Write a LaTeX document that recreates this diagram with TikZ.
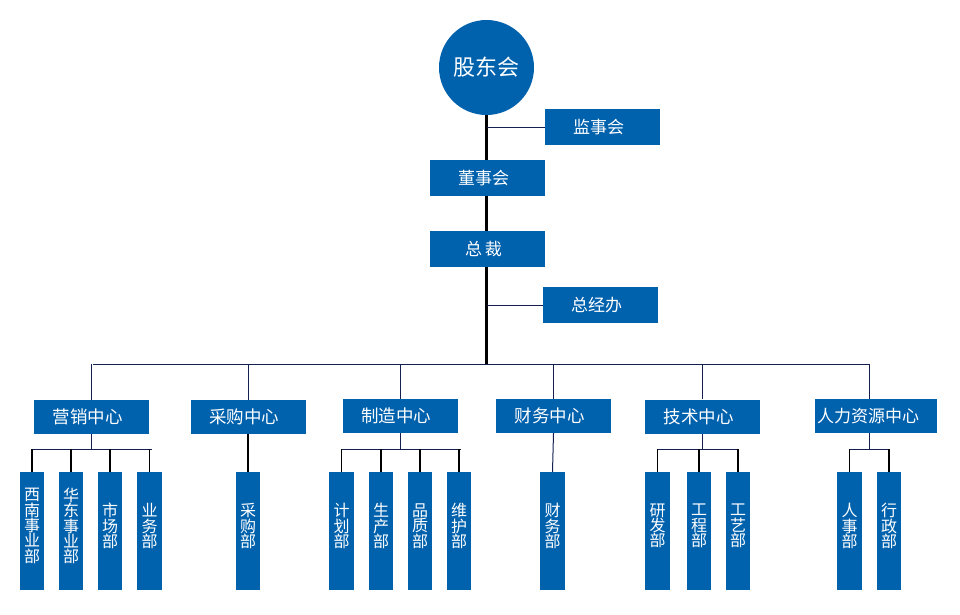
\documentclass[tikz,border=0pt]{standalone}
\usepackage{fontspec}
\setmainfont{Noto Sans CJK SC}
\usetikzlibrary{backgrounds}
\definecolor{orgblue}{RGB}{0,97,173}
\definecolor{navy}{RGB}{20,32,80}
\tikzset{
  box/.style={fill=orgblue, text=white, inner sep=0pt, minimum width=115pt, minimum height=36pt, font=\fontsize{17}{19}\selectfont, execute at end node=\hspace{8pt}},
  cbox/.style={box, minimum height=34pt, font=\fontsize{17.5}{19}\selectfont},
  bar/.style={fill=orgblue, inner sep=0pt, minimum width=24.5pt, minimum height=118pt},
  bartxt/.style={text=white, inner sep=0pt, align=center, font=\fontsize{16}{15.3}\selectfont},
  spine/.style={black, line width=2.4pt},
  thinl/.style={navy, line width=1pt},
  barl/.style={black, line width=1.4pt},
}
\begin{document}
\begin{tikzpicture}[x=1pt,y=-1pt]
\useasboundingbox (0,0) rectangle (960,614);
% top
\node[circle, fill=orgblue, text=white, minimum size=95pt, inner sep=0pt, font=\fontsize{22}{24}\selectfont] (root) at (486.5,67.5) {股东会};
\node[box] (jsh) at (602.5,127) {监事会};
\node[box] (dsh) at (487.5,178) {董事会};
\node[box] (zc) at (487.5,249) {总\,裁};
\node[box] (zjb) at (600.5,305) {总经办};
\coordinate (bus) at (486,364);
\coordinate (busL) at (93,364);
\coordinate (busR) at (869,364);
% centers
\node[cbox] (yx) at (91.5,417) {营销中心};
\node[cbox] (cg) at (248,417) {采购中心};
\node[cbox] (zz) at (400,416) {制造中心};
\node[cbox] (cw) at (553.5,416) {财务中心};
\node[cbox] (js) at (702.5,416.5) {技术中心};
\node[cbox, minimum width=122pt, font=\fontsize{17}{19}\selectfont, execute at end node=\hspace{8pt}] (rl) at (876,416) {人力资源中心};
\coordinate (sb) at (0,449);
% bars
\foreach \n/\x/\t in {b1/32/{西\\南\\事\\业\\部}, b2/71/{华\\东\\事\\业\\部}, b3/110/{市\\场\\部}, b4/149.5/{业\\务\\部},
  b5/248/{采\\购\\部}, b6/341.5/{计\\划\\部}, b7/381/{生\\产\\部}, b8/420/{品\\质\\部}, b9/459/{维\\护\\部},
  b10/552.5/{财\\务\\部}, b11/657.5/{研\\发\\部}, b12/699/{工\\程\\部}, b13/738/{工\\艺\\部},
  b14/849.5/{人\\事\\部}, b15/889/{行\\政\\部}}{
  \node[bar] (\n) at (\x,531) {};
  \node[bartxt] (\n t) at ([yshift=5pt]\n.center) {\t};
}
\begin{scope}[on background layer]
\draw[spine] (root.south) -- (root.south |- bus);
\draw[thinl] (jsh.west) -- (jsh.west -| root.south);
\draw[thinl] (zjb.west) -- (zjb.west -| root.south);
\draw[thinl] (busL) -- (busR);
\foreach \c in {yx,cg,zz,cw,js}{
  \draw[thinl] (\c.north) -- (\c.north |- bus);
}
\draw[thinl] ([xshift=-7pt]rl.north) -- ([xshift=-7pt]rl.north |- bus);
% groups
\draw[thinl] (yx.south) -- (yx.south |- sb);
\draw[thinl] (b1.north |- sb) -- ([xshift=2pt]b4.north |- sb);
\foreach \b in {b1,b2,b3,b4}{\draw[barl] (\b.north) -- (\b.north |- sb);}
\draw[barl] (cg.south) -- (b5.north);
\draw[thinl] (zz.south) -- (zz.south |- sb);
\draw[thinl] (b6.north |- sb) -- ([xshift=2pt]b9.north |- sb);
\foreach \b in {b6,b7,b8,b9}{\draw[barl] (\b.north) -- (\b.north |- sb);}
\draw[thinl] (cw.south) -- (b10.north);
\draw[thinl] (js.south) -- (js.south |- sb);
\draw[thinl] (b11.north |- sb) -- (b13.north |- sb);
\foreach \b in {b11,b12,b13}{\draw[barl] (\b.north) -- (\b.north |- sb);}
\draw[thinl] ([xshift=-7pt]rl.south) -- ([xshift=-7pt]rl.south |- sb);
\draw[thinl] (b14.north |- sb) -- (b15.north |- sb);
\foreach \b in {b14,b15}{\draw[barl] (\b.north) -- (\b.north |- sb);}
\end{scope}
\end{tikzpicture}
\end{document}
